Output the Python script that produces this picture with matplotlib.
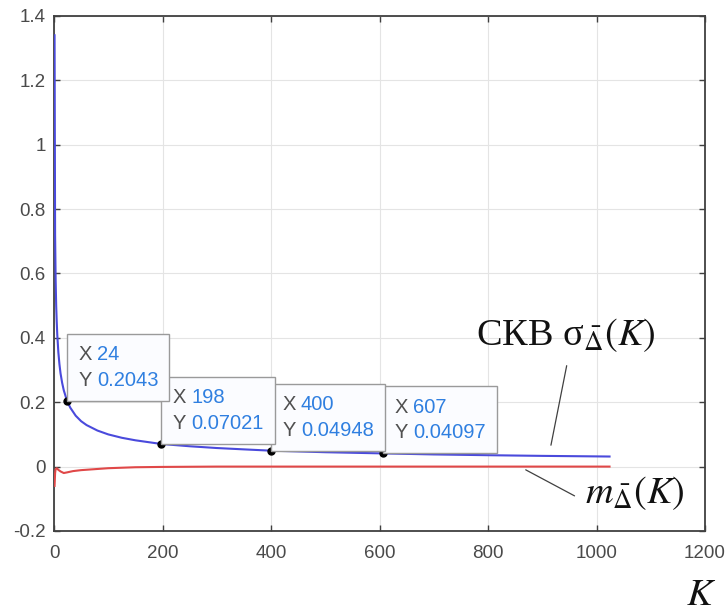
import matplotlib
matplotlib.use('Agg')
import matplotlib.pyplot as plt

# ---- data ----
K_sigma = [1, 2, 3, 4, 5, 6, 8, 10, 12, 15, 18, 24, 30, 40, 50, 60, 80, 100,
           125, 150, 198, 250, 300, 350, 400, 500, 607, 700, 800, 900, 1024]
sigma = [1.34, 0.72, 0.58, 0.50, 0.45, 0.41, 0.355, 0.318, 0.29, 0.26, 0.237,
         0.2043, 0.183, 0.158, 0.141, 0.129, 0.112, 0.100, 0.0895, 0.0817,
         0.07021, 0.0632, 0.0577, 0.0535, 0.04948, 0.0447, 0.04097, 0.0378,
         0.0354, 0.0333, 0.0313]

K_mean = [1, 2, 3, 5, 8, 12, 18, 24, 35, 50, 75, 100, 150, 200, 300, 400,
          500, 600, 700, 800, 900, 1024]
mean = [-0.06, -0.02, -0.008, -0.005, -0.01, -0.015, -0.02, -0.018, -0.014,
        -0.011, -0.008, -0.005, -0.002, -0.001, 0.0, 0.0, 0.0, 0.0, 0.0, 0.0,
        0.0, 0.0]

tip_K = [24, 198, 400, 607]
tip_val = [0.2043, 0.07021, 0.04948, 0.04097]
tip_txt = ['0.2043', '0.07021', '0.04948', '0.04097']

xticks = [0, 200, 400, 600, 800, 1000, 1200]
yticks = [-0.2, 0, 0.2, 0.4, 0.6, 0.8, 1.0, 1.2, 1.4]
ytick_labels = ['-0.2', '0', '0.2', '0.4', '0.6', '0.8', '1', '1.2', '1.4']

sigma_label = "СКВ σ$_{\\bar{\\Delta}}(K)$"
mean_label = "$m_{\\bar{\\Delta}}(K)$"

# ---- style ----
plt.rcParams['mathtext.fontset'] = 'stix'
BLUE_LINE = '#4a4adc'
RED_LINE = '#e04848'
TIP_BLUE = '#2f7fe0'
TIP_GRAY = '#505050'
AX_GRAY = '#404040'
TIP_FS = 14.5
TIP_LS = 1.45

fig = plt.figure(figsize=(7.26, 6.12), dpi=100)
ax = fig.add_axes([0.0744, 0.1324, 0.8967, 0.8415])

ax.plot(K_sigma, sigma, color=BLUE_LINE, lw=1.5, zorder=3)
ax.plot(K_mean, mean, color=RED_LINE, lw=1.5, zorder=3)

ax.set_xlim(0, 1200)
ax.set_ylim(-0.2, 1.4)
ax.set_xticks(xticks)
ax.set_xticklabels([str(v) for v in xticks])
ax.set_yticks(yticks)
ax.set_yticklabels(ytick_labels)
ax.grid(True, color='#e4e4e4', lw=0.8, zorder=0)
ax.set_axisbelow(True)
for s in ax.spines.values():
    s.set_color(AX_GRAY)
    s.set_linewidth(1.3)
ax.tick_params(axis='both', direction='in', length=4, width=1, color=AX_GRAY,
               labelcolor='#4a4a4a', labelsize=13.5, top=True, right=True)
ax.tick_params(axis='x', pad=10)
ax.tick_params(axis='y', pad=6)
for lab in ax.get_xticklabels() + ax.get_yticklabels():
    lab.set_family('Liberation Sans')

# ---- data tips ----
for i, (k, v, s) in enumerate(zip(tip_K, tip_val, tip_txt)):
    z = 20 - 2 * i
    ax.plot(k, v, 'o', color='black', ms=5, zorder=z)
    t0 = ax.annotate(f"X {k}\nY {s}", xy=(k, v), xytext=(8, 8),
                     textcoords='offset points', ha='left', va='bottom',
                     fontsize=TIP_FS, family='Liberation Sans', color='none',
                     linespacing=TIP_LS,
                     bbox=dict(boxstyle='square,pad=0.55', fc='#fbfcff',
                               ec='#9a9a9a', lw=1.0), zorder=z)
    ax.annotate("X\nY", xy=(k, v), xytext=(8, 8), textcoords='offset points',
                ha='left', va='bottom', fontsize=TIP_FS,
                family='Liberation Sans', color=TIP_GRAY, linespacing=TIP_LS,
                zorder=z + 0.5)
    ax.annotate(f"{k}\n{s}", xy=(1, 0), xycoords=t0, ha='right', va='bottom',
                fontsize=TIP_FS, family='Liberation Sans', color=TIP_BLUE,
                linespacing=TIP_LS, multialignment='left', zorder=z + 0.5)

# ---- curve labels ----
ax.text(778, 0.378, sigma_label, fontsize=27.5, family=['Liberation Serif'],
        ha='left', va='baseline', color='#111111', zorder=6)
ax.annotate('', xy=(915, 0.058), xytext=(946, 0.322),
            arrowprops=dict(arrowstyle='-', color=AX_GRAY, lw=0.9))

ax.text(979, -0.113, mean_label, fontsize=27.5, ha='left', va='baseline',
        color='#111111', zorder=6)
ax.annotate('', xy=(865, -0.006), xytext=(964, -0.095),
            arrowprops=dict(arrowstyle='-', color=AX_GRAY, lw=0.9))

fig.text(0.945, 0.012, "$K$", fontsize=28, ha='left', va='baseline',
         color='#111111')

fig.savefig('out.png', dpi=100)
